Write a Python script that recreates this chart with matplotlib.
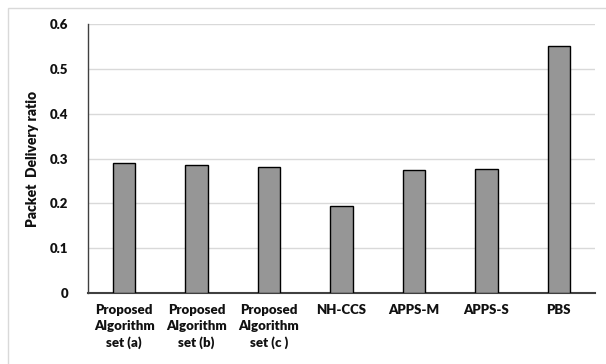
import matplotlib.pyplot as plt
import matplotlib.patches as mpatches
import numpy as np

plt.rcParams['font.family'] = ['Lato', 'DejaVu Sans']
plt.rcParams['font.weight'] = 'bold'

categories = ['Proposed\nAlgorithm\nset (a)', 'Proposed\nAlgorithm\nset (b)',
              'Proposed\nAlgorithm\nset (c )', 'NH-CCS', 'APPS-M', 'APPS-S', 'PBS']
pdr = [0.289, 0.286, 0.280, 0.193, 0.275, 0.277, 0.551]
yticks = [0, 0.1, 0.2, 0.3, 0.4, 0.5, 0.6]
ytick_labels = ['0', '0.1', '0.2', '0.3', '0.4', '0.5', '0.6']

fig = plt.figure(figsize=(6.06, 3.64), dpi=100)
ax = fig.add_axes([0.145, 0.195, 0.837, 0.739])

# thin outer frame like the original chart area
fig.patches.append(mpatches.Rectangle((8 / 606, -0.1), 1.2, 1 - 8 / 364 + 0.1,
                                      transform=fig.transFigure, fill=False,
                                      edgecolor='#d9d9d9', linewidth=1))

x = np.arange(len(categories))
ax.bar(x, pdr, width=0.31, color='#969696', edgecolor='black', linewidth=1, zorder=3)

ax.set_xlim(-0.5, len(categories) - 0.5)
ax.set_ylim(0, 0.6)
ax.set_yticks(yticks)
ax.set_yticklabels(ytick_labels, fontsize=9.5, fontweight='heavy', color='#111111')
ax.set_xticks(x)
ax.set_xticklabels(categories, fontsize=9.5, fontweight='heavy', color='#111111', linespacing=1.4)
ax.tick_params(axis='both', length=0)
ax.tick_params(axis='y', pad=14)
ax.tick_params(axis='x', pad=8)
ax.grid(True, axis='y', color='#d9d9d9', linewidth=1, zorder=0)
ax.set_ylabel('Packet  Delivery ratio', fontsize=10, fontweight='heavy', color='#111111', labelpad=8)

for s in ['top', 'right']:
    ax.spines[s].set_visible(False)
ax.spines['left'].set_color('#404040')
ax.spines['bottom'].set_color('#404040')
ax.spines['left'].set_linewidth(1)
ax.spines['bottom'].set_linewidth(1.5)

plt.savefig('out.png', dpi=100, facecolor='white')
plt.close()
